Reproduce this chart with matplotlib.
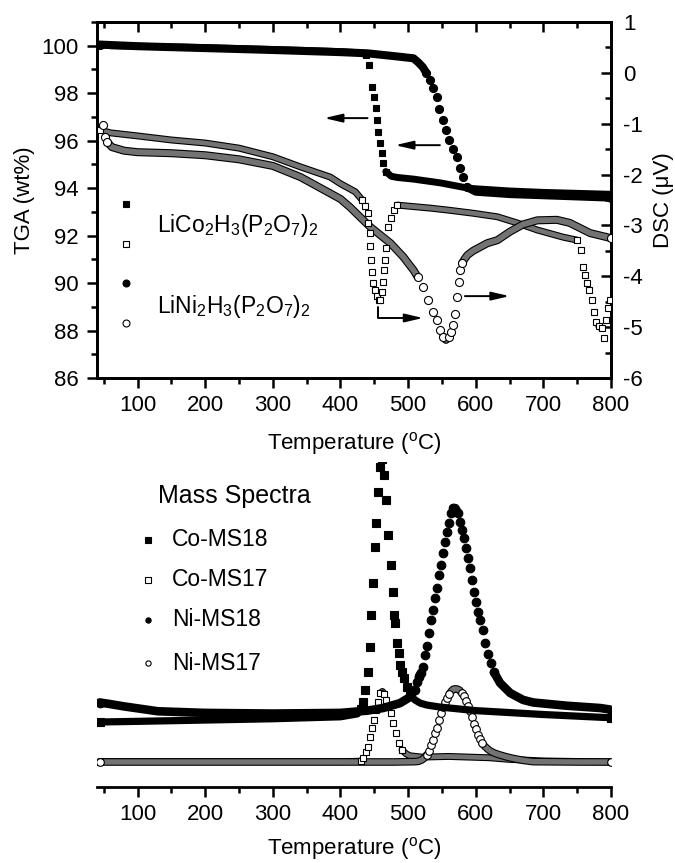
import numpy as np
import matplotlib
matplotlib.use('Agg')
import matplotlib.pyplot as plt
from matplotlib.ticker import MultipleLocator

plt.rcParams['font.family'] = ['Liberation Sans', 'DejaVu Sans']
plt.rcParams['mathtext.fontset'] = 'custom'
plt.rcParams['mathtext.rm'] = 'Liberation Sans'
plt.rcParams['mathtext.it'] = 'Liberation Sans:italic'
plt.rcParams['mathtext.bf'] = 'Liberation Sans:bold'
plt.rcParams['mathtext.default'] = 'regular'
plt.rcParams['axes.unicode_minus'] = False

# ---- top panel: TGA (wt%) ----
co_tga_T = [44, 60, 100, 150, 200, 250, 300, 350, 400, 430, 438, 442, 446, 449, 452, 454,
            456, 459, 461, 463, 467, 475, 484, 508, 548, 581, 596, 650, 700, 750, 800]
co_tga = [100.05, 100.0, 99.98, 99.95, 99.92, 99.88, 99.84, 99.80, 99.75, 99.7, 99.62, 99.18,
          98.25, 97.83, 97.37, 96.86, 96.36, 95.89, 95.47, 95.05, 94.7, 94.5, 94.45, 94.38,
          94.22, 94.04, 93.98, 93.88, 93.82, 93.78, 93.74]
ni_tga_T = [44, 100, 200, 300, 400, 440, 480, 508, 515, 522, 527, 532, 537, 542, 546, 551,
            556, 561, 566, 572, 577, 581, 587, 600, 650, 700, 750, 800]
ni_tga = [100.05, 99.98, 99.9, 99.82, 99.73, 99.68, 99.56, 99.47, 99.3, 99.09, 98.85, 98.55,
          98.2, 97.83, 97.35, 96.86, 96.45, 96.02, 95.65, 95.31, 94.85, 94.46, 94.04, 93.85,
          93.75, 93.7, 93.65, 93.6]

# ---- top panel: DSC (uV) ----
co_dsc_T = [44, 60, 100, 150, 200, 250, 300, 341, 385, 400, 422, 432, 436, 440, 441, 443,
            444, 445, 447, 448, 451, 454, 457, 459, 462, 463, 464, 466, 467, 470, 474, 479,
            484, 500, 533, 560, 596, 632, 661, 691, 729, 750, 755, 759, 762, 765, 768, 772,
            775, 778, 782, 786, 789, 792, 795, 798]
co_dsc = [-1.12, -1.18, -1.24, -1.32, -1.38, -1.48, -1.65, -1.85, -2.05, -2.18, -2.34, -2.50,
          -2.62, -2.76, -2.95, -3.15, -3.40, -3.68, -3.92, -4.13, -4.27, -4.39, -4.47, -4.47,
          -4.31, -4.11, -3.88, -3.68, -3.44, -3.03, -2.85, -2.70, -2.60, -2.62, -2.66, -2.70,
          -2.76, -2.83, -2.95, -3.09, -3.23, -3.29, -3.48, -3.82, -3.97, -4.13, -4.27, -4.47,
          -4.70, -4.90, -4.98, -5.02, -5.21, -4.86, -4.62, -4.47]
ni_dsc_T = [49, 52, 55, 62, 80, 100, 150, 200, 250, 300, 341, 400, 414, 444, 474, 493, 508,
            514, 522, 530, 537, 543, 547, 552, 556, 560, 564, 567, 570, 573, 575, 577, 580,
            584, 588, 596, 617, 632, 651, 670, 691, 720, 739, 769, 800]
ni_dsc = [-1.03, -1.26, -1.36, -1.46, -1.53, -1.56, -1.58, -1.62, -1.70, -1.83, -2.05, -2.48,
          -2.64, -3.03, -3.35, -3.62, -3.88, -4.01, -4.21, -4.47, -4.70, -4.86, -5.06, -5.19,
          -5.25, -5.20, -5.10, -4.95, -4.75, -4.40, -4.11, -3.88, -3.74, -3.65, -3.58, -3.50,
          -3.35, -3.29, -3.12, -2.98, -2.90, -2.89, -2.95, -3.15, -3.25]

# ---- bottom panel: mass spectra (arb. units) ----
co_ms18_T = [44, 100, 200, 300, 400, 425, 431, 434, 437, 440, 443, 445, 448, 451, 453, 456,
             459, 462, 465, 468, 471, 474, 477, 479, 481, 484, 486, 488, 491, 494, 499, 503,
             510, 518, 528, 547, 600, 700, 800]
co_ms18 = [20.0, 20.2, 20.6, 21.0, 21.6, 22.5, 24.0, 26.2, 29.8, 35.3, 43.1, 52.9, 62.8, 73.8,
           81.2, 90.8, 98.5, 101.0, 96.0, 88.3, 77.5, 68.3, 60.0, 52.9, 50.5, 44.3, 41.2,
           37.5, 35.5, 33.5, 30.8, 28.3, 26.8, 25.8, 25.2, 24.6, 23.5, 22.3, 21.3]
co_ms17_T = [44, 200, 400, 425, 430, 433, 438, 441, 444, 447, 450, 453, 456, 459, 462, 465,
             468, 471, 474, 478, 482, 486, 491, 497, 503, 520, 560, 620, 650, 700, 800]
co_ms17 = [7.8, 7.8, 7.8, 7.9, 8.0, 8.9, 10.8, 12.3, 15.4, 18.2, 20.6, 23.7, 26.2, 28.9, 29.4,
           28.6, 26.8, 24.6, 22.8, 19.7, 16.6, 13.5, 11.4, 10.2, 9.6, 9.2, 9.4, 9.0, 8.5, 8.0, 7.7]
ni_ms18_T = [44, 60, 80, 130, 200, 300, 400, 440, 463, 488, 503, 510, 513, 516, 519, 522, 525,
             528, 531, 534, 537, 540, 543, 546, 549, 552, 555, 558, 561, 564, 567, 570, 574,
             577, 580, 583, 586, 589, 592, 595, 598, 601, 604, 607, 611, 614, 618, 622, 627,
             636, 651, 670, 685, 735, 784, 800]
ni_ms18 = [26.0, 25.5, 24.8, 23.3, 22.8, 22.6, 22.8, 23.5, 24.3, 25.8, 27.7, 30.0, 32.3, 34.0,
           35.1, 36.9, 40.6, 43.5, 47.4, 51.4, 54.5, 58.2, 61.2, 65.2, 68.3, 72.0, 75.4, 78.5,
           81.2, 84.3, 85.8, 85.8, 84.3, 81.5, 79.1, 76.6, 73.5, 70.5, 67.4, 63.7, 60.0, 56.9,
           53.8, 51.4, 48.3, 44.3, 41.0, 38.2, 35.3, 32.0, 28.9, 26.8, 26.0, 25.0, 24.3, 23.8]
ni_ms17_T = [44, 200, 400, 480, 510, 515, 520, 524, 528, 531, 534, 537, 540, 543, 546, 549,
             552, 555, 558, 561, 564, 567, 570, 573, 576, 579, 582, 585, 588, 591, 594, 597,
             600, 603, 606, 609, 613, 617, 622, 628, 635, 645, 655, 670, 685, 750, 800]
ni_ms17 = [7.7, 7.7, 7.7, 7.7, 7.8, 7.9, 8.3, 8.9, 10.0, 11.2, 12.8, 14.5, 16.5, 18.2, 20.5,
           22.7, 24.6, 26.2, 27.4, 28.6, 29.5, 30.1, 30.2, 30.1, 29.8, 29.0, 27.9, 26.5, 25.0,
           23.3, 21.4, 19.5, 17.7, 16.1, 14.7, 13.6, 12.6, 11.8, 11.0, 10.4, 9.9, 9.3, 8.8,
           8.2, 7.8, 7.7, 7.7]

fig = plt.figure(figsize=(6.75, 8.63), dpi=100)


def scatter_trace(ax, T, v, marker, filled, ms, z=3):
    # instrument points are ~3 C apart: where they overlap draw a band, else single markers
    T = np.asarray(T, float)
    v = np.asarray(v, float)
    px = ax.transData.transform(np.column_stack([T, v]))
    dist = np.hypot(*np.diff(px, axis=0).T)
    n = np.maximum(1.0, np.diff(T) / 3.0)
    band = dist / n < 0.5 * ms * fig.dpi / 72
    i = 0
    while i < len(band):
        if not band[i]:
            i += 1
            continue
        j = i
        while j < len(band) and band[j]:
            j += 1
        xs, ys = T[i:j + 1], v[i:j + 1]
        ax.plot(xs, ys, '-', color='k', lw=ms, solid_capstyle='round',
                solid_joinstyle='round', zorder=z)
        if not filled:
            ax.plot(xs, ys, '-', color='0.45', lw=ms - 1.6, solid_capstyle='round',
                    solid_joinstyle='round', zorder=z)
        i = j
    keep = np.ones(len(T), bool)
    keep[1:-1] = ~(band[:-1] & band[1:])
    ax.plot(T[keep], v[keep], ls='none', marker=marker, ms=ms,
            mfc='k' if filled else 'w', mec='k', mew=0.8, zorder=z + 0.1)


FS = 16
SPW = 2.0

# ================= top panel =================
ax = fig.add_axes([97 / 675, 1 - 378 / 863, 514 / 675, 356 / 863])
ax2 = ax.twinx()
ax.set_xlim(40, 800)
ax.set_ylim(86, 101)
ax2.set_ylim(-6, 1)

for a in (ax, ax2):
    for s in a.spines.values():
        s.set_linewidth(SPW)

ax.xaxis.set_major_locator(MultipleLocator(100))
ax.xaxis.set_minor_locator(MultipleLocator(50))
ax.yaxis.set_major_locator(MultipleLocator(2))
ax.yaxis.set_minor_locator(MultipleLocator(1))
ax.tick_params(which='major', direction='out', length=7, width=1.8, labelsize=FS, pad=6)
ax.tick_params(which='minor', direction='out', length=4, width=1.8)
ax.tick_params(axis='x', pad=5)

ax2.yaxis.set_major_locator(MultipleLocator(1))
ax2.yaxis.set_minor_locator(MultipleLocator(0.5))
ax2.tick_params(which='major', direction='in', length=7, width=1.8, labelsize=FS, pad=9)
ax2.tick_params(which='minor', direction='in', length=4, width=1.8)

top = ax.secondary_xaxis('top')
top.xaxis.set_major_locator(MultipleLocator(100))
top.xaxis.set_minor_locator(MultipleLocator(50))
top.tick_params(which='major', direction='in', length=7, width=1.8, labeltop=False)
top.tick_params(which='minor', direction='in', length=4, width=1.8)
top.spines['top'].set_linewidth(SPW)

scatter_trace(ax, co_tga_T, co_tga, 's', True, 5.0)
scatter_trace(ax, ni_tga_T, ni_tga, 'o', True, 5.8)
scatter_trace(ax2, co_dsc_T, co_dsc, 's', False, 5.0)
scatter_trace(ax2, ni_dsc_T, ni_dsc, 'o', False, 5.8)

ax.set_xlabel(r'Temperature ($^{\mathrm{o}}$C)', fontsize=FS)
ax.xaxis.set_label_coords(0.5, -0.145)
ax.xaxis.label.set_va('top')
ax.set_ylabel('TGA (wt%)', fontsize=FS)
ax.yaxis.set_label_coords(-0.121, 0.5)
ax2.set_ylabel('DSC (μV)', fontsize=FS)
ax2.yaxis.set_label_coords(1.082, 0.5)

# arrows pointing to the axis each curve belongs to
arrow = dict(arrowstyle='-|>,head_length=0.6,head_width=0.14', color='k', lw=1.4,
             mutation_scale=18, shrinkA=0, shrinkB=0)
ax.annotate('', xy=(376, 96.95), xytext=(440, 96.95), arrowprops=arrow)
ax.annotate('', xy=(481, 95.81), xytext=(547, 95.81), arrowprops=arrow)
ax2.annotate('', xy=(522, -4.82), xytext=(456, -4.60),
             arrowprops=dict(arrow, connectionstyle='angle,angleA=-90,angleB=180,rad=0'))
ax2.annotate('', xy=(650, -4.39), xytext=(584, -4.39), arrowprops=arrow)

# legend keys
key_x = 0.0564
for y, m, f in [(0.489, 's', 'k'), (0.376, 's', 'w'), (0.267, 'o', 'k'), (0.1545, 'o', 'w')]:
    ax.plot([key_x], [y], marker=m, ms=5, mfc=f, mec='k', mew=0.8, ls='none',
            transform=ax.transAxes, clip_on=False)
ax.text(0.117, 0.41, r'LiCo$_2$H$_3$(P$_2$O$_7$)$_2$', transform=ax.transAxes,
        fontsize=16.5, va='baseline', ha='left')
ax.text(0.117, 0.183, r'LiNi$_2$H$_3$(P$_2$O$_7$)$_2$', transform=ax.transAxes,
        fontsize=16.5, va='baseline', ha='left')

# ================= bottom panel =================
axb = fig.add_axes([97 / 675, 1 - 787 / 863, 514 / 675, 325 / 863])
axb.set_xlim(40, 800)
axb.set_ylim(0, 100)
for k in ('left', 'right', 'top'):
    axb.spines[k].set_visible(False)
axb.spines['bottom'].set_linewidth(SPW)
axb.set_yticks([])
axb.xaxis.set_major_locator(MultipleLocator(100))
axb.xaxis.set_minor_locator(MultipleLocator(50))
axb.tick_params(which='major', direction='out', length=7, width=1.8, labelsize=FS, pad=5)
axb.tick_params(which='minor', direction='out', length=4, width=1.8)

scatter_trace(axb, co_ms17_T, co_ms17, 's', False, 5.0, z=3)
scatter_trace(axb, ni_ms17_T, ni_ms17, 'o', False, 5.5, z=3)
scatter_trace(axb, co_ms18_T, co_ms18, 's', True, 5.2, z=4)
scatter_trace(axb, ni_ms18_T, ni_ms18, 'o', True, 6.2, z=4)

axb.set_xlabel(r'Temperature ($^{\mathrm{o}}$C)', fontsize=FS)
axb.xaxis.set_label_coords(0.5, -0.148)
axb.xaxis.label.set_va('top')

axb.text(0.119, 0.895, 'Mass Spectra', transform=axb.transAxes, fontsize=18,
         va='center', ha='left')
ms_names = ['Co-MS18', 'Co-MS17', 'Ni-MS18', 'Ni-MS17']
for y, m, f, name in zip([0.760, 0.637, 0.514, 0.3815], ['s', 's', 'o', 'o'],
                         ['k', 'w', 'k', 'w'], ms_names):
    axb.plot([0.0992], [y], marker=m, ms=3.8, mfc=f, mec='k', mew=0.8, ls='none',
             transform=axb.transAxes, clip_on=False)
    axb.text(0.146, y, name, transform=axb.transAxes, fontsize=16.5, va='center', ha='left')

fig.savefig('out.png', dpi=100)
